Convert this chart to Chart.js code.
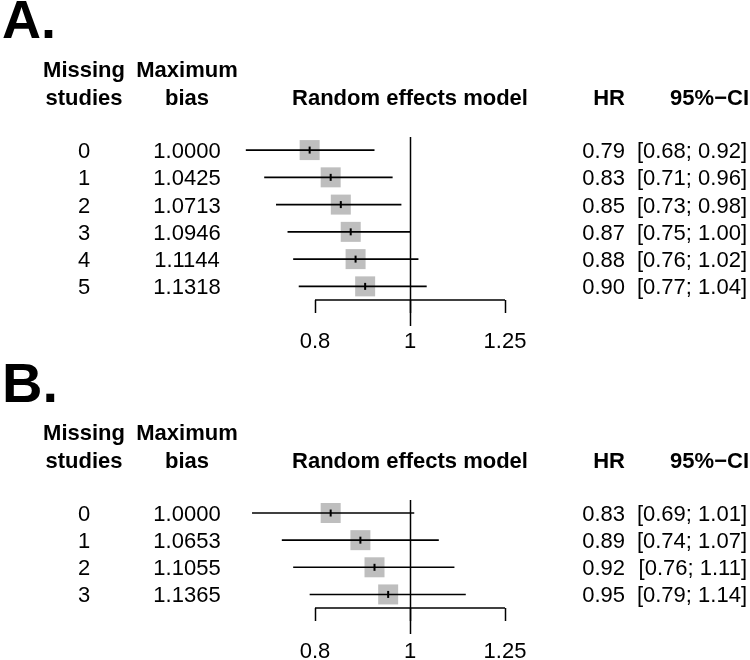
<!DOCTYPE html>
<html>
<head>
<meta charset="utf-8">
<script src="https://cdn.jsdelivr.net/npm/chart.js@4.4.1/dist/chart.umd.min.js"></script>
<style>
  body { margin: 0; background: #fff; }
  #wrap { position: relative; width: 750px; height: 660px; }
  canvas { position: absolute; left: 0; }
</style>
</head>
<body>
<div id="wrap">
  <canvas id="chartA" width="750" height="350" style="top:0px"></canvas>
  <canvas id="chartB" width="750" height="310" style="top:350px"></canvas>
</div>
<script>
// 패널 A 데이터
const missingA = [0, 1, 2, 3, 4, 5];
const biasA = [1.0000, 1.0425, 1.0713, 1.0946, 1.1144, 1.1318];
const hrA = [0.79, 0.83, 0.85, 0.87, 0.88, 0.90];
const lowerA = [0.68, 0.71, 0.73, 0.75, 0.76, 0.77];
const upperA = [0.92, 0.96, 0.98, 1.00, 1.02, 1.04];

// 패널 B 데이터
const missingB = [0, 1, 2, 3];
const biasB = [1.0000, 1.0653, 1.1055, 1.1365];
const hrB = [0.83, 0.89, 0.92, 0.95];
const lowerB = [0.69, 0.74, 0.76, 0.79];
const upperB = [1.01, 1.07, 1.11, 1.14];

// x축 눈금
const tickValues = [0.8, 1, 1.25];
const tickLabels = ['0.8', '1', '1.25'];

const FONT = "'Liberation Sans', Arial, sans-serif";

function makeForest(canvasId, letter, missing, bias, hr, lower, upper, opt) {
  const n = hr.length;

  // 신뢰구간 선 (행마다 하나씩)
  const ciSets = lower.map((lo, i) => ({
    data: [{ x: lo, y: i }, { x: upper[i], y: i }],
    showLine: true,
    pointRadius: 0,
    borderColor: '#000',
    borderWidth: 1.6,
    order: 2
  }));

  const textPlugin = {
    id: 'forestText',
    beforeDatasetsDraw: (chart) => {
      const { ctx, chartArea } = chart;
      const xs = chart.scales.x;
      ctx.save();
      ctx.strokeStyle = '#000';
      ctx.lineWidth = 1.5;
      // 축 기준선 (0.8 ~ 1.25)
      ctx.beginPath();
      ctx.moveTo(xs.getPixelForValue(tickValues[0]), chartArea.bottom);
      ctx.lineTo(xs.getPixelForValue(tickValues[tickValues.length - 1]), chartArea.bottom);
      ctx.stroke();
      // HR = 1 세로선
      const x1 = Math.round(xs.getPixelForValue(1)) + 0.5;
      ctx.beginPath();
      ctx.moveTo(x1, chartArea.top);
      ctx.lineTo(x1, chartArea.bottom + 26);
      ctx.stroke();
      ctx.restore();
    },
    afterDraw: (chart) => {
      const ctx = chart.ctx;
      const ys = chart.scales.y;
      const dy = opt.dy;
      ctx.save();
      ctx.fillStyle = '#000';

      // 패널 글자
      ctx.font = 'bold ' + opt.letterSize + 'px ' + FONT;
      ctx.textAlign = 'left';
      ctx.fillText(letter, 2, opt.letterY);

      // 헤더
      ctx.font = 'bold 22px ' + FONT;
      ctx.textAlign = 'center';
      ctx.fillText('Missing', 84, 77 + dy);
      ctx.fillText('studies', 84, 105 + dy);
      ctx.fillText('Maximum', 187, 77 + dy);
      ctx.fillText('bias', 187, 105 + dy);
      ctx.fillText('Random effects model', 410, 105 + dy);
      ctx.textAlign = 'right';
      ctx.fillText('HR', 625, 105 + dy);
      ctx.fillText('95%\u2212CI', 749, 105 + dy);

      // 행 값
      ctx.font = '22px ' + FONT;
      for (let i = 0; i < n; i++) {
        const y = ys.getPixelForValue(i) + 8;
        ctx.textAlign = 'center';
        ctx.fillText(String(missing[i]), 84, y);
        ctx.fillText(bias[i].toFixed(4), 187, y);
        ctx.textAlign = 'right';
        ctx.fillText(hr[i].toFixed(2), 625, y);
        ctx.fillText('[' + lower[i].toFixed(2) + '; ' + upper[i].toFixed(2) + ']', 747, y);
      }
      ctx.restore();
    }
  };

  return new Chart(document.getElementById(canvasId), {
    type: 'scatter',
    data: {
      datasets: [
        // 회색 상자
        {
          data: hr.map((v, i) => ({ x: v, y: i })),
          pointStyle: 'rect',
          pointRadius: 14.14,
          backgroundColor: '#bebebe',
          borderWidth: 0,
          order: 3
        },
        ...ciSets,
        // 점추정 표시 (작은 세로선)
        {
          data: hr.map((v, i) => ({ x: v, y: i })),
          pointStyle: 'line',
          rotation: 90,
          pointRadius: 3.5,
          borderColor: '#000',
          borderWidth: 2,
          order: 1
        }
      ]
    },
    options: {
      responsive: false,
      animation: false,
      clip: false,
      layout: { padding: { left: 230, right: 220, top: opt.top, bottom: 0 } },
      plugins: { legend: { display: false }, tooltip: { enabled: false } },
      scales: {
        x: {
          type: 'logarithmic',
          min: 0.6552,
          max: 1.3256,
          afterBuildTicks: (scale) => { scale.ticks = tickValues.map(v => ({ value: v })); },
          afterFit: (scale) => { scale.height = opt.axisH; },
          border: { display: false },
          grid: { drawOnChartArea: false, drawTicks: true, tickLength: 13, tickColor: '#000', tickWidth: 1.5 },
          ticks: {
            autoSkip: false,
            maxRotation: 0,
            color: '#000',
            padding: opt.tickPad,
            font: { size: 22, family: FONT },
            callback: (v, i) => tickLabels[i]
          }
        },
        y: {
          type: 'linear',
          display: false,
          reverse: true,
          min: -0.48,
          max: n - 0.5
        }
      }
    },
    plugins: [textPlugin]
  });
}

makeForest('chartA', 'A.', missingA, biasA, hrA, lowerA, upperA,
  { top: 137, axisH: 50, tickPad: 16, dy: 0, letterY: 38, letterSize: 54 });
makeForest('chartB', 'B.', missingB, biasB, hrB, lowerB, upperB,
  { top: 150, axisH: 52, tickPad: 18, dy: 13, letterY: 52, letterSize: 56 });
</script>
</body>
</html>
